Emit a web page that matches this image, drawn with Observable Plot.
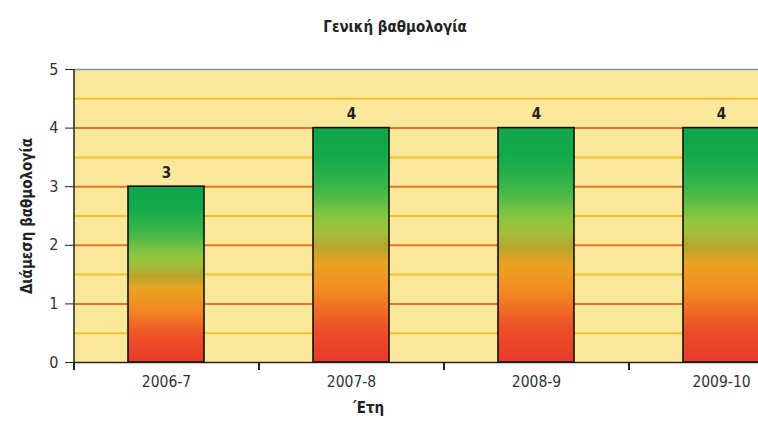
<!DOCTYPE html>
<html>
<head>
<meta charset="utf-8">
<script src="https://cdn.jsdelivr.net/npm/d3@7"></script>
<script src="https://cdn.jsdelivr.net/npm/@observablehq/plot@0.6"></script>
<style>
  html, body { margin: 0; padding: 0; background: #fff; overflow: hidden; width: 758px; height: 421px; }
  #title { height: 50px; position: relative; }
  #title span { position: absolute; left: 0; width: 790px; text-align: center; top: 18px;
    font: bold 15px "Liberation Sans Narrow", "DejaVu Sans Condensed", sans-serif; color: #222; }
  #chart svg { display: block; max-width: none !important; }
</style>
</head>
<body>
<div id="title"><span>Γενική βαθμολογία</span></div>
<div id="chart"></div>
<script>
const title = "Γενική βαθμολογία";
const yLabel = "Διάμεση βαθμολογία";
const xLabel = "΄Ετη";
const categories = ["2006-7", "2007-8", "2008-9", "2009-10"];
const values = [3, 4, 4, 4];
const majorTicks = [0, 1, 2, 3, 4, 5];
const minorTicks = [0.5, 1.5, 2.5, 3.5, 4.5];

const data = categories.map((c, i) => ({year: c, value: values[i]}));

const width = 813, marginLeft = 73, marginRight = 0;
const bw = (width - marginLeft - marginRight) / categories.length;
const font = '"Liberation Sans Narrow", "DejaVu Sans Condensed", sans-serif';

const chart = Plot.plot({
  width, height: 371,
  marginLeft, marginRight, marginTop: 19, marginBottom: 59,
  style: {fontFamily: font, fontSize: "14px", color: "#333", background: "transparent", maxWidth: "none"},
  x: {domain: categories, paddingInner: 0.59, paddingOuter: 0.295, align: 0.5},
  y: {domain: [0, 5]},
  marks: [
    Plot.frame({fill: "#fbe99b", stroke: null}),
    Plot.ruleY(minorTicks, {stroke: "#f5bf2c", strokeWidth: 2}),
    Plot.ruleY(majorTicks.filter(d => d > 0 && d < 5), {stroke: "#e8702c", strokeWidth: 2}),
    Plot.ruleY([majorTicks[majorTicks.length - 1]], {stroke: "#8a96a0", strokeWidth: 1.5}),
    Plot.barY(data, {x: "year", y: "value", fill: "url(#barGrad)", stroke: "#111", strokeWidth: 1.6}),
    Plot.text(data, {x: "year", y: "value", text: d => String(d.value), dy: -14,
      fontWeight: "bold", fontSize: 15, fill: "#222"}),
    Plot.ruleY([0], {stroke: "#222", strokeWidth: 1.5}),
    Plot.ruleX([categories[0]], {x: d => d, dx: -bw / 2, y1: 5, y2: 0, insetBottom: -6, stroke: "#222", strokeWidth: 1.5}),
    Plot.ruleX(categories, {x: d => d, dx: -bw / 2, y1: 0, y2: 0, insetBottom: -8, stroke: "#222", strokeWidth: 2}),
    Plot.axisY({ticks: majorTicks, tickFormat: d3.format("d"), tickSize: 8, tickPadding: 7, stroke: "#222", fontSize: 16, fill: "#333",
      label: yLabel, labelAnchor: "center", labelOffset: 52, labelArrow: false}),
    Plot.axisX({tickSize: 0, tickPadding: 13, fontSize: 15.5, fill: "#333", label: null}),
    Plot.text([xLabel], {frameAnchor: "bottom", dx: 367 - (marginLeft + width - marginRight) / 2, dy: 50,
      fontWeight: "bold", fontSize: 15, fill: "#222"})
  ]
});

// gradient defs for bars
const svg = d3.select(chart);
const grad = svg.insert("defs", ":first-child").append("linearGradient")
  .attr("id", "barGrad").attr("x1", 0).attr("y1", 1).attr("x2", 0).attr("y2", 0);
[[0, "#e8392a"], [0.15, "#ee5128"], [0.3, "#f28a22"], [0.42, "#e9a321"], [0.49, "#b8a52a"],
 [0.55, "#a2bf39"], [0.61, "#8dc540"], [0.74, "#3db54a"], [0.88, "#13a94b"], [1, "#0fa74a"]]
  .forEach(([o, c]) => grad.append("stop").attr("offset", o).attr("stop-color", c));

// y axis label styling
svg.selectAll("[aria-label='y-axis label'] text").attr("font-weight", "bold").attr("font-size", 15).attr("fill", "#222");

document.getElementById("chart").appendChild(chart);
</script>
</body>
</html>
